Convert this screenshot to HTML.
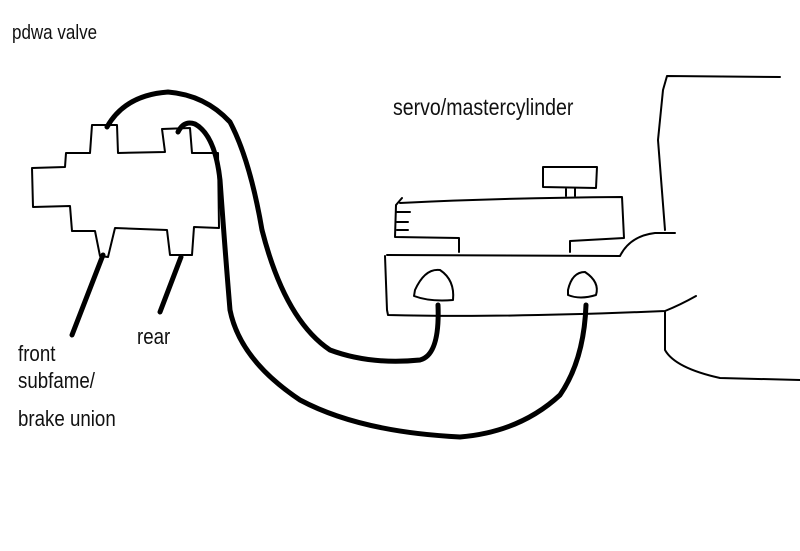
<!DOCTYPE html>
<html><head><style>
body{margin:0;background:#fff;width:800px;height:551px;overflow:hidden;position:relative;font-family:"Liberation Sans",sans-serif}
.t{position:absolute;color:#111;font-size:22px;transform-origin:0 0;transform:scaleX(0.85);white-space:nowrap;line-height:26px}
</style></head><body>
<svg width="800" height="551" style="position:absolute;left:0;top:0" fill="none" stroke="#000" stroke-linejoin="round" stroke-linecap="round">
<g stroke-width="2">
<path d="M32,168 L65,167 L66,153 L90,153 L92,125 L117,125 L118,153 L165,152 L162,129 L190,128 L192,153 L218,153 L219,228 L194,227 L192,255 L170,255 L167,230 L115,228 L108,257 L100,256 L95,231 L72,231 L70,206 L33,207 Z"/>
<path d="M400,203 Q500,198 622,197 L624,238 L570,241 L570,252 M459,252 L459,238 L395,237 L396,205 L402,198 M397,212 L410,212 M397,222 L408,222 M397,230 L408,230"/>
<path d="M543,167 L597,167 L596,188 L543,187 Z M566,188 L566,196 M575,188 L575,196"/>
<path d="M387,255 L620,256 Q630,236 655,233 L675,233 M385,256 L387,310 L388,315 Q500,318 665,311 Q680,305 696,296"/>
<path d="M415,290 Q425,268 440,270 Q455,280 453,300 Q430,302 414,296 Z"/>
<path d="M568,290 Q572,272 585,272 Q600,282 596,295 Q580,300 568,295 Z"/>
<path d="M780,77 L667,76 L663,90 L658,140 L665,230 M665,312 L665,350 Q675,368 720,378 L800,380"/>
</g>
<g stroke-width="5">
<path d="M107,127 Q125,95 168,92 Q205,95 230,122 Q250,160 262,230 Q285,320 330,350 Q370,365 420,360 Q440,355 438,305"/>
<path d="M178,132 Q184,120 195,124 Q215,135 220,180 Q225,250 230,310 Q240,360 300,400 Q360,432 460,437 Q520,432 560,395 Q584,360 586,305"/>
<path d="M103,255 L72,335 M181,257 L160,312"/>
</g>
</svg>
<div class="t" style="left:12px;top:20px;font-size:20px">pdwa valve</div>
<div class="t" style="left:393px;top:94px;font-size:23px">servo/mastercylinder</div>
<div class="t" style="left:137px;top:324px">rear</div>
<div class="t" style="left:18px;top:341px">front</div>
<div class="t" style="left:18px;top:368px">subfame/</div>
<div class="t" style="left:18px;top:406px">brake union</div>
</body></html>
